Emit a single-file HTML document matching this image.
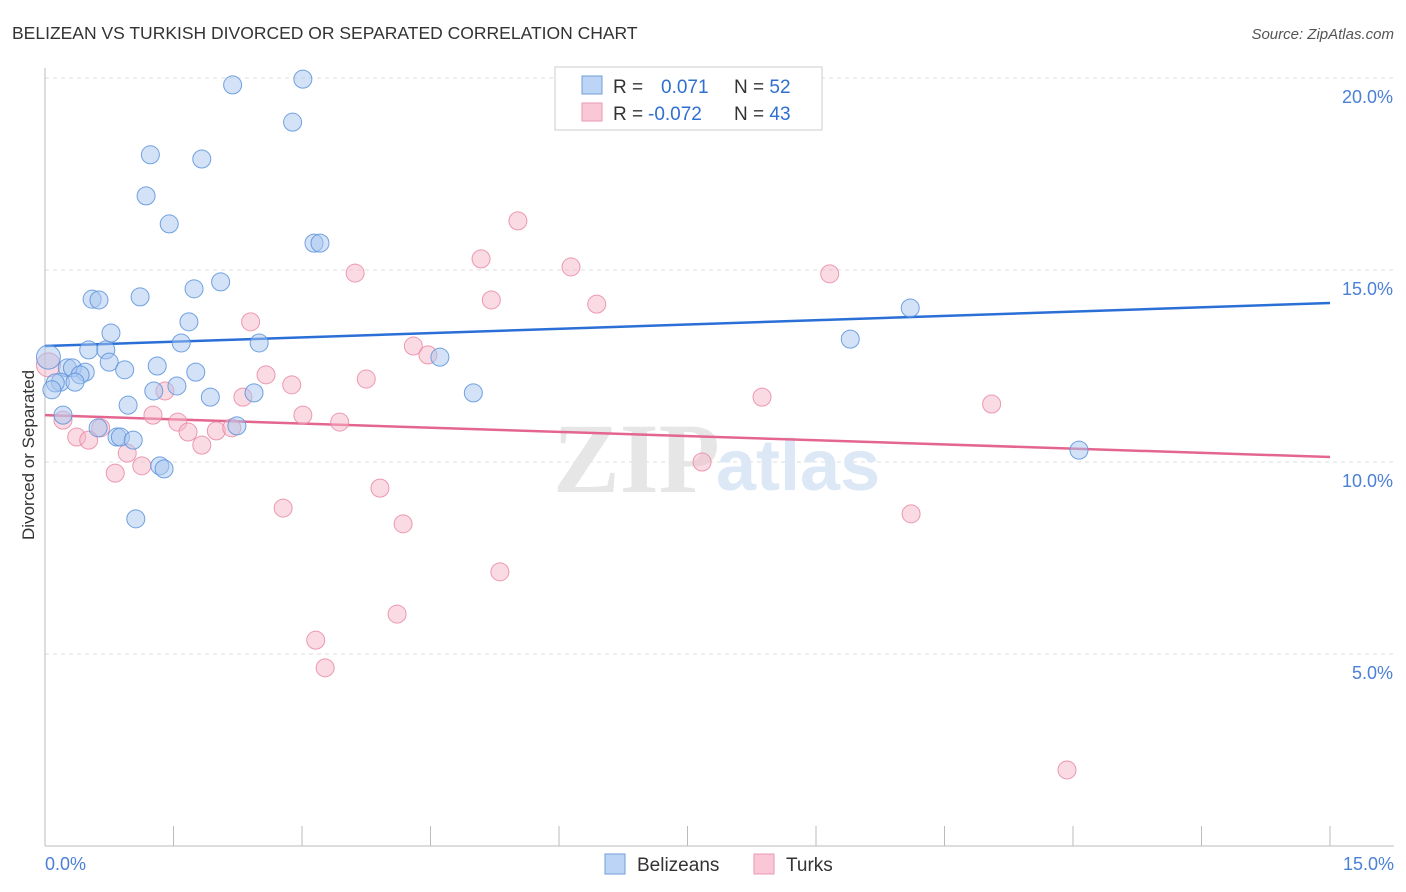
<!DOCTYPE html>
<html><head><meta charset="utf-8"><style>
body{margin:0;background:#fff;font-family:"Liberation Sans",sans-serif;}
svg{display:block}
</style></head><body>
<svg id="chart" width="1406" height="892">
<text x="12" y="39" font-size="17.5" fill="#333">BELIZEAN VS TURKISH DIVORCED OR SEPARATED CORRELATION CHART</text>
<text x="1394" y="39" font-size="15" fill="#555" font-style="italic" text-anchor="end">Source: ZipAtlas.com</text>
<g id="grid"></g>
<g>
<text x="553" y="492" font-size="100" font-family="Liberation Serif,serif" fill="#e6e6e6" font-weight="bold">ZIP</text>
<text x="716" y="490" font-size="72" fill="#dce8f6" font-weight="bold">atlas</text>
</g>
<g id="axes"></g>
<g id="trends"></g>
<g id="points"></g>
<text transform="translate(34,455) rotate(-90)" font-size="17" fill="#333" text-anchor="middle">Divorced or Separated</text>
<g>
<rect x="555" y="67" width="267" height="63" fill="#fff" stroke="#ccc"/>
<rect x="582" y="76" width="20" height="18" fill="#bcd4f5" stroke="#6f9edc"/>
<rect x="582" y="103" width="20" height="18" fill="#f9c7d5" stroke="#e99ab1"/>
<text x="613" y="93" font-size="19" fill="#333">R = <tspan fill="#2f6fd0" x="661">0.071</tspan><tspan x="734" fill="#333">N = </tspan><tspan fill="#2f6fd0">52</tspan></text>
<text x="613" y="120" font-size="19" fill="#333">R = <tspan fill="#2f6fd0" x="648">-0.072</tspan><tspan x="734" fill="#333">N = </tspan><tspan fill="#2f6fd0">43</tspan></text>
</g>
<g>
<rect x="605" y="854" width="20" height="20" fill="#bcd4f5" stroke="#6f9edc"/>
<text x="637" y="871" font-size="19" fill="#333">Belizeans</text>
<rect x="754" y="854" width="20" height="20" fill="#f9c7d5" stroke="#e99ab1"/>
<text x="786" y="871" font-size="19" fill="#333">Turks</text>
</g>
</svg>
<script>
const blueX=[2.19,3.01,2.89,1.23,1.83,1.18,1.45,3.14,3.21,0.55,0.63,1.11,1.74,2.05,1.68,0.77,1.59,2.50,0.51,0.71,0.75,0.26,0.32,0.47,0.93,1.31,1.76,0.41,0.18,0.12,0.35,0.08,1.54,1.27,2.44,1.93,0.97,0.21,0.62,0.84,0.88,1.03,2.24,1.34,1.39,1.06,4.61,5.00,9.40,10.10,12.07,0.04];
const blueY=[19.82,19.97,18.85,18.0,17.89,16.93,16.20,15.70,15.70,14.24,14.22,14.30,14.51,14.69,13.65,13.36,13.10,13.10,12.92,12.92,12.60,12.45,12.45,12.34,12.40,12.50,12.34,12.27,12.08,12.06,12.08,11.88,11.98,11.85,11.80,11.69,11.48,11.22,10.89,10.65,10.65,10.57,10.94,9.90,9.82,8.52,12.73,11.80,13.20,14.01,10.31,12.73];
const pinkX=[5.52,5.09,6.14,3.62,9.16,5.21,6.44,2.40,4.30,4.47,2.58,3.75,2.88,1.40,2.31,8.37,11.05,1.26,3.01,0.21,1.55,3.44,0.65,1.67,2.00,2.18,0.37,0.51,0.96,1.83,1.13,0.82,3.91,7.67,2.78,4.18,10.11,5.31,4.11,3.16,3.27,11.93,0.04];
const pinkY=[16.28,15.29,15.08,14.92,14.90,14.22,14.11,13.65,13.02,12.79,12.27,12.16,12.01,11.85,11.69,11.69,11.51,11.22,11.22,11.09,11.04,11.04,10.89,10.78,10.81,10.89,10.65,10.57,10.23,10.44,9.90,9.71,9.32,10.0,8.80,8.39,8.65,7.14,6.04,5.36,4.64,1.98,12.53];
const blueTrend=[13.02,14.14];
const pinkTrend=[11.22,10.13];
const yTicks=[5,10,15,20];
const yTickLabels=["5.0%","10.0%","15.0%","20.0%"];
const xTicks=[0,1.5,3,4.5,6,7.5,9,10.5,12,13.5,15];
const xEndLabels=["0.0%","15.0%"];
const NS="http://www.w3.org/2000/svg";
const X=v=>45+v/15*1285, Y=v=>846-v/20*768;
function mk(tag,attrs,parent){const e=document.createElementNS(NS,tag);for(const k in attrs)e.setAttribute(k,attrs[k]);document.getElementById(parent).appendChild(e);return e;}
yTicks.forEach((t,i)=>{
 const l=mk('line',{x1:45,x2:1394,y1:Y(t),y2:Y(t),stroke:'#ddd','stroke-dasharray':'4,4'},'grid');
 
 
 const tx=mk('text',{x:1393,y:Y(t)+25,'font-size':18,fill:'#4a80d6','text-anchor':'end'},'grid');
 tx.textContent=yTickLabels[i];
 
 
});
const ax=mk('line',{x1:45,x2:1394,y1:846,y2:846,stroke:'#bbb'},'axes');


const ay=mk('line',{x1:45,x2:45,y1:68,y2:846,stroke:'#bbb'},'axes');


xTicks.forEach(t=>{const l=mk('line',{x1:X(t),x2:X(t),y1:826,y2:846,stroke:'#bbb'},'axes');
 
 });
const xl0=mk('text',{x:45,y:870,'font-size':18,fill:'#4a80d6'},'axes');xl0.textContent=xEndLabels[0];


const xl1=mk('text',{x:1394,y:870,'font-size':18,fill:'#4a80d6','text-anchor':'end'},'axes');xl1.textContent=xEndLabels[1];


function pts(xs,ys,fill,stroke,name){xs.forEach((x,i)=>{
 const big=i===xs.length-1;
 const c=mk('circle',{cx:X(x),cy:Y(ys[i]),r:big?12:9,fill:fill,'fill-opacity':0.5,stroke:stroke,'stroke-width':1,'stroke-opacity':0.85},'points');
 
 });}
pts(pinkX,pinkY,'#f5b5c7','#e98aa6','turks-point');
pts(blueX,blueY,'#a7c6f0','#5b93dc','belizeans-point');
const bt=mk('line',{x1:X(0),x2:X(15),y1:Y(blueTrend[0]),y2:Y(blueTrend[1]),stroke:'#2a6fd6','stroke-width':2.5},'trends');


const pt=mk('line',{x1:X(0),x2:X(15),y1:Y(pinkTrend[0]),y2:Y(pinkTrend[1]),stroke:'#e4668f','stroke-width':2.5},'trends');


</script>
</body></html>
